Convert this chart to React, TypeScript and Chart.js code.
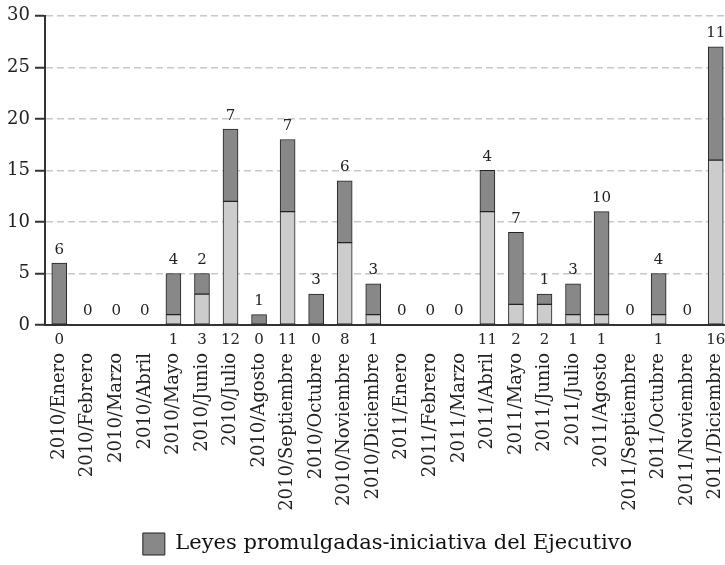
import React, { useEffect, useRef } from "react";
import { Chart, registerables } from "chart.js";

Chart.register(...registerables);

const categories = [
  "2010/Enero", "2010/Febrero", "2010/Marzo", "2010/Abril", "2010/Mayo", "2010/Junio",
  "2010/Julio", "2010/Agosto", "2010/Septiembre", "2010/Octubre", "2010/Noviembre", "2010/Diciembre",
  "2011/Enero", "2011/Febrero", "2011/Marzo", "2011/Abril", "2011/Mayo", "2011/Junio",
  "2011/Julio", "2011/Agosto", "2011/Septiembre", "2011/Octubre", "2011/Noviembre", "2011/Diciembre",
];

// Light (bottom) series – values labelled below the axis (null = no label)
const lightValues: (number | null)[] = [
  0, null, null, null, 1, 3, 12, 0, 11, 0, 8, 1,
  null, null, null, 11, 2, 2, 1, 1, null, 1, null, 16,
];

// Dark series – "Leyes promulgadas-iniciativa del Ejecutivo"
const darkValues: number[] = [
  6, 0, 0, 0, 4, 2, 7, 1, 7, 3, 6, 3,
  0, 0, 0, 4, 7, 1, 3, 10, 0, 4, 0, 11,
];

const yTicks = [0, 5, 10, 15, 20, 25, 30];

const darkLabel = "Leyes promulgadas-iniciativa del Ejecutivo";
const lightLabel = "Otras";

const FONT = "'DejaVu Serif', serif";

const valueLabels = {
  id: "valueLabels",
  afterDatasetsDraw(chart: any) {
    const ctx = chart.ctx;
    const x = chart.scales.x;
    const y = chart.scales.y;
    ctx.save();
    ctx.font = `15px ${FONT}`;
    ctx.fillStyle = "#222";
    ctx.textAlign = "center";
    categories.forEach((_, i) => {
      const cx = x.getPixelForValue(i);
      const total = (lightValues[i] ?? 0) + darkValues[i];
      ctx.textBaseline = "bottom";
      ctx.fillText(String(darkValues[i]), cx, y.getPixelForValue(total) - 6);
      const lv = lightValues[i];
      if (lv !== null && lv !== undefined) {
        ctx.textBaseline = "top";
        ctx.fillText(String(lv), cx, y.getPixelForValue(0) + 8);
      }
    });
    ctx.restore();
  },
};

export default function App() {
  const ref = useRef<HTMLCanvasElement | null>(null);

  useEffect(() => {
    document.body.style.margin = "0";
    document.body.style.overflow = "hidden";
    if (!ref.current) return;
    const chart = new Chart(ref.current, {
      type: "bar",
      data: {
        labels: categories,
        datasets: [
          {
            label: lightLabel,
            data: lightValues,
            backgroundColor: "#cccccc",
            borderColor: "#222222",
            borderWidth: 1,
            borderSkipped: false,
            barThickness: 15,
          },
          {
            label: darkLabel,
            data: darkValues,
            backgroundColor: "#888888",
            borderColor: "#222222",
            borderWidth: 1,
            borderSkipped: false,
            barThickness: 15,
          },
        ],
      },
      options: {
        responsive: false,
        animation: false,
        devicePixelRatio: 1,
        layout: { padding: { top: 15, right: 5, left: 0, bottom: 0 } },
        plugins: {
          tooltip: { enabled: false },
          legend: {
            position: "bottom",
            fullSize: false,
            labels: {
              filter: (item: any) => item.text === darkLabel,
              boxWidth: 22,
              boxHeight: 22,
              color: "#111",
              font: { family: FONT, size: 21 },
              padding: 9,
            },
          },
        },
        scales: {
          x: {
            stacked: true,
            grid: { display: false, drawTicks: false },
            border: { display: true, color: "#333", width: 2 },
            ticks: {
              autoSkip: false,
              minRotation: 90,
              maxRotation: 90,
              padding: 28,
              color: "#222",
              font: { family: FONT, size: 18 },
            },
            afterFit: (s: any) => {
              s.height = 199;
              s.paddingLeft = 0;
              s.paddingRight = 0;
            },
          },
          y: {
            stacked: true,
            min: 0,
            max: 30,
            afterBuildTicks: (s: any) => {
              s.ticks = yTicks.map((v) => ({ value: v }));
            },
            afterFit: (s: any) => {
              s.width = 45;
            },
            grid: {
              color: "#c8c8c8",
              lineWidth: 1.5,
              tickColor: "#333",
              tickLength: 10,
              tickWidth: 2,
              tickBorderDash: [],
            },
            border: { display: true, color: "#333", width: 2, dash: [7, 4] },
            ticks: {
              padding: 5,
              color: "#222",
              font: { family: FONT, size: 18 },
            },
          },
        },
      },
      plugins: [valueLabels],
    } as any);
    return () => chart.destroy();
  }, []);

  return (
    <div style={{ width: 725, height: 565, overflow: "hidden", position: "relative" }}>
      <canvas ref={ref} width={735} height={565} style={{ display: "block" }} />
    </div>
  );
}
